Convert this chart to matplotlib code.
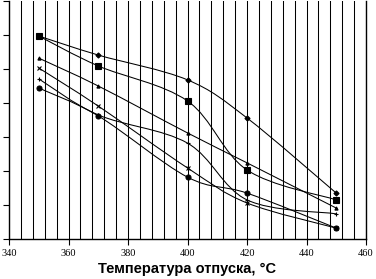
import numpy as np
import matplotlib.pyplot as plt
from matplotlib.path import Path
from matplotlib.patches import PathPatch
from matplotlib.ticker import MultipleLocator

# температура отпуска, °C
temp = [350, 370, 400, 420, 450]

# значения по кривым (ось Y без подписей в оригинале)
s1 = [5.97, 5.41, 4.68, 3.56, 1.35]
s2 = [5.97, 5.09, 4.06, 2.03, 1.15]
s3 = [5.32, 4.50, 3.12, 2.24, 0.91]
s4 = [5.03, 3.91, 2.09, 1.06, 0.32]
s5 = [4.71, 3.65, 2.82, 1.15, 0.74]
s6 = [4.44, 3.62, 1.82, 1.35, 0.32]

series = [
    (s1, 'D', 2.6),
    (s2, 's', 4.5),
    (s3, '^', 2.3),
    (s4, 'x', 3.2),
    (s5, '+', 3.2),
    (s6, 'o', 3.6),
]


def smooth_path(x, y, t=1/6):
    # сглаженная линия как в Excel (Catmull-Rom -> кривые Безье)
    x = np.asarray(x, float)
    y = np.asarray(y, float)
    verts = [(x[0], y[0])]
    codes = [Path.MOVETO]
    n = len(x)
    for i in range(n - 1):
        i0 = max(i - 1, 0)
        i3 = min(i + 2, n - 1)
        c1 = (x[i] + (x[i + 1] - x[i0]) * t, y[i] + (y[i + 1] - y[i0]) * t)
        c2 = (x[i + 1] - (x[i3] - x[i]) * t, y[i + 1] - (y[i3] - y[i]) * t)
        verts += [c1, c2, (x[i + 1], y[i + 1])]
        codes += [Path.CURVE4] * 3
    return Path(verts, codes)


fig = plt.figure(figsize=(3.76, 2.79), dpi=100)
ax = fig.add_axes([9/376, 40/279, 357/376, 238/279])

for vals, mk, ms in series:
    ax.add_patch(PathPatch(smooth_path(temp, vals), fill=False,
                           edgecolor='black', lw=0.75))
    ax.plot(temp, vals, ls='none', marker=mk, ms=ms, color='black',
            mew=0.8, zorder=3)

ax.set_xlim(340, 460)
ax.set_ylim(0, 7)
ax.xaxis.set_major_locator(MultipleLocator(20))
ax.xaxis.set_minor_locator(MultipleLocator(4))
ax.yaxis.set_major_locator(MultipleLocator(1))
ax.grid(True, axis='x', which='both', color='black', lw=0.75)
ax.set_axisbelow(True)
ax.set_yticklabels([])
ax.tick_params(axis='both', which='major', direction='out', length=4,
               width=0.8, color='black', labelsize=7.5, pad=3)
ax.tick_params(axis='x', which='minor', length=0)
for lab in ax.get_xticklabels():
    lab.set_family('Liberation Serif')
ax.spines['top'].set_visible(False)
for sp in ['left', 'bottom', 'right']:
    ax.spines[sp].set_linewidth(1.0)

ax.set_xlabel('Температура отпуска, °C', fontsize=10.5, fontweight='bold',
              family='Liberation Sans', labelpad=3)

fig.savefig('out.png', dpi=100)
